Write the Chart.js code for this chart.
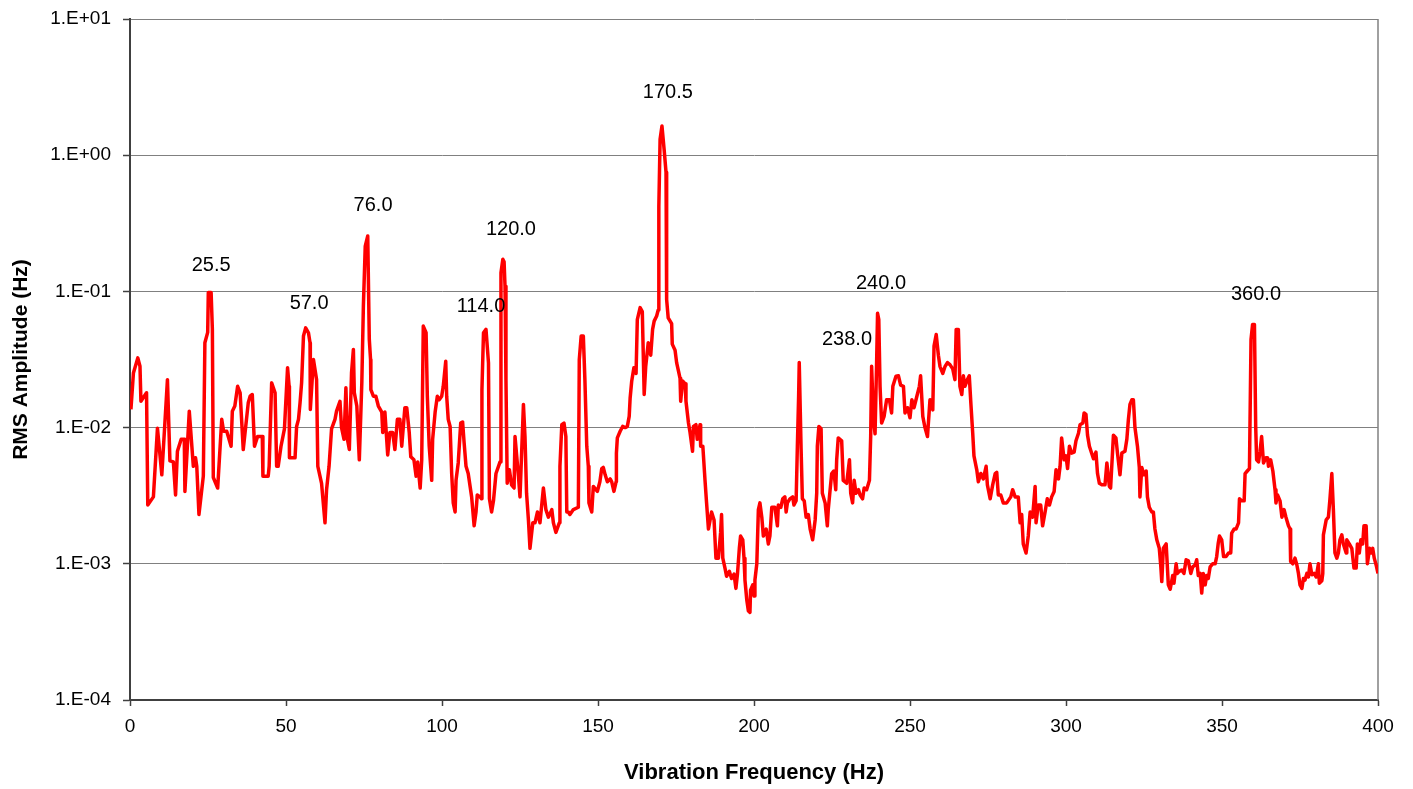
<!DOCTYPE html>
<html>
<head>
<meta charset="utf-8">
<title>RMS Amplitude vs Vibration Frequency</title>
<script src="https://cdn.jsdelivr.net/npm/chart.js@4.4.1/dist/chart.umd.min.js"></script>
<style>
  html, body { margin: 0; padding: 0; background: #fff; }
  #wrap { width: 1413px; height: 789px; }
</style>
</head>
<body>
<div id="wrap"><canvas id="chart" width="1413" height="789"></canvas></div>
<script>
// spectrum, Hz / amplitude
const freqHz = [
  0.3, 1.1, 2.5, 3.2, 3.5, 5.3, 5.7, 7.5, 8.8, 10.2,
  12.0, 12.8, 13.9, 14.6, 15.2, 16.4, 17.4, 17.6, 19.0, 20.3,
  21.0, 21.4, 22.1, 23.5, 24.0, 24.9, 25.1, 26.0, 26.4, 26.7,
  28.1, 29.4, 30.0, 31.0, 32.4, 32.8, 33.6, 34.5, 35.3, 36.3,
  37.9, 38.5, 39.2, 39.9, 40.9, 42.4, 42.6, 44.3, 44.6, 45.4,
  46.5, 47.0, 47.5, 48.4, 49.5, 50.5, 51.0, 51.1, 52.9, 53.4,
  54.0, 54.5, 55.0, 55.6, 56.3, 57.2, 57.7, 57.8, 58.8, 59.8,
  60.2, 61.4, 62.5, 63.0, 63.8, 64.6, 65.7, 66.2, 67.3, 67.8,
  68.6, 69.2, 69.7, 70.3, 71.0, 71.6, 71.9, 72.7, 73.5, 74.3,
  74.8, 75.4, 76.2, 76.7, 77.1, 77.2, 78.0, 78.8, 79.6, 80.7,
  81.0, 81.7, 82.6, 83.3, 84.2, 84.9, 85.7, 86.5, 87.1, 88.1,
  88.7, 89.5, 90.0, 91.0, 91.7, 92.2, 93.0, 93.5, 94.0, 94.9,
  95.3, 95.9, 96.7, 97.0, 97.8, 98.5, 99.1, 99.9, 100.4, 101.2,
  101.5, 102.0, 102.6, 103.1, 103.6, 104.2, 104.5, 105.2, 106.0, 106.6,
  107.1, 107.7, 108.4, 109.5, 110.3, 110.9, 111.3, 112.2, 112.7, 112.8,
  113.3, 114.1, 114.9, 115.2, 115.9, 116.5, 117.3, 118.6, 118.9, 119.5,
  119.9, 120.2, 120.5, 120.9, 121.6, 122.3, 123.1, 123.4, 124.5, 125.0,
  126.1, 126.6, 127.1, 127.7, 128.2, 129.1, 129.8, 130.6, 131.4, 132.5,
  133.3, 134.1, 135.2, 135.7, 136.5, 137.6, 137.8, 138.4, 139.1, 139.7,
  140.0, 140.5, 141.0, 142.1, 143.7, 144.0, 144.6, 145.3, 145.8, 146.4,
  146.9, 147.1, 148.0, 148.5, 149.8, 150.6, 151.2, 151.7, 152.3, 153.0,
  153.9, 154.4, 155.1, 155.8, 155.9, 156.2, 157.1, 157.9, 158.7, 159.4,
  160.0, 160.3, 160.8, 161.5, 162.2, 162.6, 163.5, 164.2, 164.8, 165.3,
  166.1, 166.9, 167.5, 168.0, 168.8, 169.3, 169.5, 169.9, 170.5, 171.2,
  171.8, 172.0, 172.5, 173.6, 173.8, 174.7, 175.2, 175.8, 176.3, 176.5,
  177.1, 177.9, 178.2, 179.0, 179.5, 180.3, 180.6, 181.4, 181.8, 182.7,
  182.9, 183.6, 184.3, 184.8, 185.4, 186.4, 187.2, 187.8, 188.6, 189.3,
  189.6, 190.0, 190.7, 191.2, 192.1, 192.8, 193.6, 194.2, 194.7, 195.3,
  195.7, 196.4, 196.8, 197.1, 197.7, 198.2, 198.7, 198.9, 199.6, 200.0,
  200.3, 200.9, 201.4, 201.9, 202.5, 203.0, 203.9, 204.6, 205.1, 205.7,
  206.7, 207.5, 207.8, 208.6, 209.2, 209.9, 210.3, 210.7, 211.5, 212.4,
  212.8, 213.5, 213.9, 214.3, 214.5, 215.1, 215.5, 216.1, 216.7, 217.4,
  218.0, 218.8, 219.6, 220.1, 220.3, 220.8, 221.5, 221.9, 222.8, 223.5,
  223.8, 224.4, 224.9, 225.6, 226.2, 226.5, 227.0, 228.1, 228.6, 229.7,
  230.6, 231.0, 231.6, 232.1, 232.7, 233.5, 234.0, 234.8, 235.3, 236.1,
  237.0, 237.4, 237.7, 238.3, 238.8, 239.3, 239.6, 240.0, 240.4, 240.9,
  241.7, 242.5, 243.4, 244.1, 244.5, 245.5, 246.3, 247.0, 247.9, 248.4,
  249.2, 250.0, 250.6, 251.3, 252.2, 253.0, 253.4, 254.1, 254.8, 255.6,
  256.4, 257.3, 257.7, 258.4, 259.1, 259.6, 260.5, 261.2, 262.0, 262.8,
  263.7, 264.4, 264.8, 265.5, 266.0, 266.6, 267.1, 267.6, 268.4, 269.0,
  269.5, 270.1, 270.5, 271.4, 271.9, 272.7, 273.5, 274.4, 274.8, 275.7,
  276.5, 277.3, 277.8, 278.3, 279.1, 279.9, 281.0, 282.3, 282.9, 283.7,
  284.7, 285.3, 285.8, 286.3, 287.2, 287.9, 288.5, 289.3, 290.1, 290.4,
  291.1, 291.9, 292.5, 293.3, 294.0, 294.7, 295.4, 296.2, 296.8, 297.6,
  298.1, 298.6, 299.4, 300.0, 300.5, 301.1, 301.8, 302.6, 303.2, 304.0,
  304.5, 305.4, 305.8, 306.4, 306.9, 307.5, 308.2, 308.8, 309.6, 310.1,
  310.7, 311.5, 312.5, 313.1, 313.9, 314.3, 315.2, 316.0, 316.5, 317.3,
  317.9, 318.9, 319.5, 320.0, 320.5, 321.1, 321.6, 322.1, 322.9, 323.5,
  323.7, 324.3, 325.0, 325.7, 326.1, 326.7, 327.5, 328.0, 328.5, 329.1,
  329.9, 330.4, 330.7, 331.2, 332.1, 332.8, 333.4, 334.2, 334.6, 335.3,
  335.7, 336.3, 337.1, 337.8, 338.5, 339.2, 340.0, 340.6, 341.4, 341.9,
  342.4, 343.0, 343.5, 344.0, 344.6, 345.1, 345.6, 346.2, 347.0, 347.8,
  348.3, 348.8, 349.2, 349.9, 350.5, 351.3, 352.1, 352.8, 353.1, 353.9,
  354.5, 355.3, 355.6, 356.3, 357.1, 357.4, 358.1, 358.8, 359.0, 359.3,
  359.8, 360.4, 360.8, 361.1, 361.7, 362.2, 362.7, 363.3, 364.1, 364.6,
  364.9, 365.6, 366.3, 367.0, 367.3, 367.8, 368.6, 369.2, 369.9, 370.5,
  371.3, 371.8, 372.0, 372.7, 373.4, 374.0, 374.5, 375.0, 375.6, 376.1,
  376.6, 377.2, 377.7, 378.2, 378.8, 379.5, 380.2, 380.9, 381.2, 382.0,
  382.3, 382.5, 383.4, 384.1, 384.6, 385.2, 385.7, 386.2, 386.8, 387.3,
  387.8, 388.4, 388.9, 389.8, 390.0, 390.8, 391.6, 392.3, 393.0, 393.4,
  394.0, 394.5, 395.1, 395.5, 396.2, 396.6, 397.3, 397.7, 398.3, 398.8,
  399.4, 400.0,
];
const rmsAmp = [
  .0136, .0252, .0325, .0282, .0156, .018, .0027, .0031, .0099, .0045,
  .0225, .0057, .0056, .0032, .0067, .0082, .0082, .0034, .0132, .0052,
  .006, .0052, .0023, .0044, .042, .05, .098, .098, .053, .0043,
  .0036, .0115, .0094, .0094, .0073, .0132, .0144, .0201, .018, .0069,
  .0152, .017, .0175, .0073, .0086, .0086, .0044, .0044, .0052, .0213,
  .018, .0052, .0052, .0073, .0098, .0275, .0201, .006, .006, .0102,
  .0115, .0152, .0213, .047, .054, .0497, .042, .0136, .0316, .0225,
  .0052, .0039, .002, .0035, .0052, .0098, .0115, .0132, .0156, .01,
  .0082, .0196, .0082, .0069, .0252, .0375, .018, .0144, .0058, .0213,
  .078, .215, .255, .0444, .0316, .019, .017, .017, .0144, .013,
  .0092, .013, .0063, .0092, .0092, .0069, .0115, .0115, .0073, .014,
  .014, .0092, .0061, .0058, .0044, .0056, .0036, .0058, .0556, .0497,
  .017, .0073, .0041, .0082, .013, .017, .016, .017, .0201, .0307,
  .017, .0115, .0102, .0046, .0028, .0024, .0041, .0055, .0108, .011,
  .0077, .0052, .0046, .0031, .0019, .0024, .0032, .0031, .003, .019,
  .0497, .0526, .0299, .003, .0024, .0029, .0046, .0056, .137, .172,
  .165, .109, .0225, .0039, .0049, .0038, .0036, .0086, .0044, .0031,
  .0148, .0086, .0033, .0021, .0013, .002, .002, .0024, .002, .0036,
  .0025, .0022, .0025, .002, .0017, .002, .0052, .0105, .0108, .0086,
  .0024, .0024, .0023, .0025, .0026, .0316, .047, .047, .0225, .0073,
  .0052, .0028, .0024, .0037, .0034, .004, .005, .0051, .0045, .004,
  .0042, .004, .0034, .004, .0065, .0084, .0094, .0102, .01, .0102,
  .0121, .0165, .0219, .0275, .025, .062, .076, .071, .0175, .0282,
  .042, .034, .0526, .0605, .066, .073, .42, 1.31, 1.64, 1.1,
  .75, .087, .064, .058, .041, .037, .03, .026, .023, .0156,
  .022, .021, .0156, .0108, .0092, .0067, .0102, .0105, .0082, .0105,
  .0073, .0073, .0041, .0028, .0018, .0024, .0021, .0011, .0011, .0017,
  .0023, .0011, .00093, .00081, .00088, .00078, .00084, .00066, .00084, .0013,
  .0016, .0015, .0011, .00076, .00054, .00045, .00044, .00064, .0007, .00058,
  .00076, .001, .0025, .0028, .0022, .0016, .0018, .0014, .0016, .0026,
  .0026, .0019, .0027, .0026, .003, .0031, .0024, .0028, .003, .0031,
  .0027, .0029, .0073, .017, .03, .0069, .003, .0029, .0022, .0023,
  .0018, .0015, .0021, .0033, .0073, .0102, .0098, .0033, .0028, .0019,
  .0025, .0035, .0046, .0048, .0035, .0058, .0084, .008, .0041, .0039,
  .0058, .0033, .0028, .0041, .0033, .0035, .0032, .003, .0036, .0035,
  .0041, .0086, .0282, .0115, .009, .03, .069, .062, .0201, .0108,
  .0121, .016, .016, .0128, .0201, .0238, .024, .0205, .0201, .0128,
  .014, .0118, .016, .014, .017, .0201, .024, .0121, .01, .0086,
  .016, .0135, .0396, .0483, .034, .0282, .025, .028, .03, .029,
  .027, .0225, .0526, .0526, .0201, .0175, .024, .0201, .0225, .024,
  .0152, .0091, .0062, .0049, .004, .0046, .0042, .0052, .0038, .003,
  .0038, .0046, .0047, .0032, .0032, .0028, .0028, .0031, .0035, .0031,
  .0031, .002, .0023, .0014, .0012, .0016, .0024, .0022, .0037, .002,
  .0027, .0027, .0019, .0024, .003, .0027, .0031, .0034, .0049, .0042,
  .0052, .0084, .0058, .0062, .005, .0073, .0065, .0066, .008, .0091,
  .0105, .0108, .0128, .0125, .0088, .0073, .0065, .0059, .0066, .0046,
  .0039, .0038, .0038, .0055, .0037, .0036, .0088, .0084, .0065, .0045,
  .0065, .0067, .0082, .0115, .0148, .016, .016, .01, .0073, .0051,
  .0031, .0051, .0045, .0048, .0031, .0026, .0024, .0024, .0018, .0015,
  .0013, .00095, .00074, .0013, .0014, .0007, .00065, .00082, .00072, .001,
  .00085, .00088, .0009, .00085, .00107, .00105, .00085, .00095, .00098, .00107,
  .00082, .00085, .00061, .00085, .0007, .00082, .00078, .00095, .001, .001,
  .00113, .00142, .0016, .0015, .00113, .00113, .0012, .0012, .00168, .0018,
  .0018, .002, .003, .0029, .0029, .0046, .0048, .005, .0121, .0444,
  .0572, .0572, .0102, .0058, .0056, .0067, .0086, .0055, .006, .006,
  .0052, .0058, .0048, .0035, .0028, .0032, .0029, .0022, .0025, .0022,
  .0019, .0018, .00104, .001, .0011, .00098, .00085, .0007, .00066, .00078,
  .00076, .00085, .0008, .001, .00083, .00085, .0008, .001, .00072, .00075,
  .00085, .00163, .0021, .0022, .003, .0046, .0025, .0012, .0011, .0012,
  .0015, .00163, .0014, .0012, .0015, .0014, .0013, .00093, .00093, .0014,
  .0012, .0015, .0014, .0019, .0019, .001, .0013, .0012, .0013, .0011,
  .00098, .00085,
];

// axis ticks
const yTickValues = [1e-4, 1e-3, 1e-2, 1e-1, 1, 10];
const yTickLabels = ['1.E-04', '1.E-03', '1.E-02', '1.E-01', '1.E+00', '1.E+01'];

// peak call-outs (text + where it sits, in data units)
const peakText = ['25.5', '57.0', '76.0', '114.0', '120.0', '170.5', '238.0', '240.0', '360.0'];
const peakHz = [26.0, 57.4, 77.9, 112.5, 122.1, 172.4, 229.8, 240.7, 360.9];
const peakAmp = [0.155, 0.0817, 0.429, 0.0776, 0.286, 2.9, 0.0444, 0.1145, 0.095];

const FONT = '"Liberation Sans", Arial, sans-serif';

// gray frame line on the right edge of the plot area
const plotFrame = {
  id: 'plotFrame',
  beforeDatasetsDraw(chart) {
    const { ctx, chartArea: a } = chart;
    ctx.save();
    ctx.strokeStyle = '#808080';
    ctx.lineWidth = 1.5;
    ctx.beginPath();
    ctx.moveTo(a.right, a.top);
    ctx.lineTo(a.right, a.bottom);
    ctx.stroke();
    ctx.restore();
  },
};

const peakLabels = {
  id: 'peakLabels',
  afterDatasetsDraw(chart) {
    const { ctx, scales: { x, y } } = chart;
    ctx.save();
    ctx.font = '20px ' + FONT;
    ctx.fillStyle = '#000';
    ctx.textAlign = 'center';
    ctx.textBaseline = 'middle';
    peakText.forEach((txt, i) => {
      ctx.fillText(txt, x.getPixelForValue(peakHz[i]), y.getPixelForValue(peakAmp[i]));
    });
    ctx.restore();
  },
};

new Chart(document.getElementById('chart'), {
  type: 'line',
  data: {
    datasets: [{
      data: freqHz.map((f, i) => ({ x: f, y: rmsAmp[i] })),
      borderColor: '#FF0000',
      borderWidth: 3.5,
      borderJoinStyle: 'round',
      pointRadius: 0,
      tension: 0,
      fill: false,
    }],
  },
  options: {
    responsive: false,
    animation: false,
    devicePixelRatio: 1,
    layout: { padding: { top: 19, right: 35, left: 0, bottom: 0 } },
    plugins: { legend: { display: false }, tooltip: { enabled: false } },
    scales: {
      x: {
        type: 'linear',
        min: 0,
        max: 400,
        ticks: { stepSize: 50, color: '#000', font: { family: FONT, size: 19 }, padding: 9, maxRotation: 0 },
        grid: { drawOnChartArea: false, tickLength: 6, tickColor: '#404040', tickWidth: 1.5 },
        border: { color: '#404040', width: 2 },
        title: {
          display: true,
          text: 'Vibration Frequency (Hz)',
          color: '#000',
          font: { family: FONT, size: 22, weight: 'bold' },
          padding: { top: 0, bottom: 3 },
        },
        afterFit: (s) => { s.height = 89; },
      },
      y: {
        type: 'logarithmic',
        min: 1e-4,
        max: 10,
        afterBuildTicks: (s) => { s.ticks = yTickValues.map((v) => ({ value: v })); },
        ticks: {
          color: '#000',
          font: { family: FONT, size: 19 },
          padding: 12,
          callback: (v, i) => yTickLabels[i],
        },
        grid: { color: '#808080', lineWidth: 1, tickLength: 7, tickColor: '#404040', tickWidth: 1.5 },
        border: { color: '#404040', width: 2 },
        title: {
          display: true,
          text: 'RMS Amplitude (Hz)',
          color: '#000',
          font: { family: FONT, size: 21, weight: 'bold' },
          padding: { top: 9, bottom: 0 },
        },
        // keep the top label from pushing the plot area down
        afterFit: (s) => { s.width = 130; s.paddingTop = 0; s.paddingBottom = 0; },
      },
    },
  },
  plugins: [plotFrame, peakLabels],
});
</script>
</body>
</html>
